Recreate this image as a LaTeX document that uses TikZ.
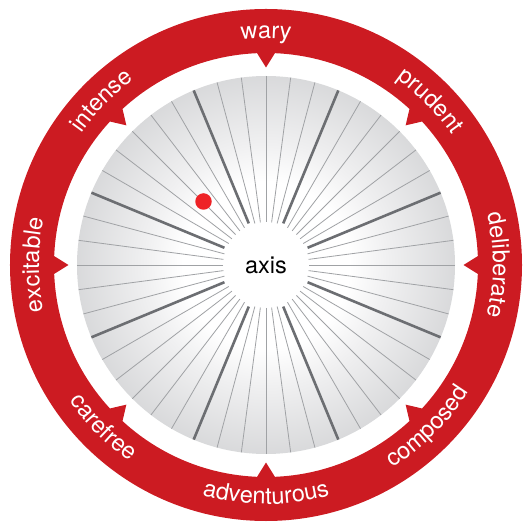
\documentclass[tikz,border=0pt]{standalone}
\usepackage{fontspec}
\setmainfont{TeX Gyre Heros}
\usetikzlibrary{decorations.text}
\definecolor{ringred}{RGB}{204,27,34}
\definecolor{dotred}{RGB}{238,34,38}
\definecolor{spokedark}{RGB}{108,110,114}
\definecolor{spokelight}{RGB}{160,162,165}
\definecolor{discrim}{RGB}{136,138,142}
\definecolor{discmid}{RGB}{204,205,207}
\definecolor{discin}{RGB}{240,240,241}
\pgfdeclareradialshading{discshade}{\pgfpoint{0bp}{0bp}}{color(0bp)=(white); color(11bp)=(white); color(16bp)=(discin); color(30bp)=(discmid); color(50bp)=(discrim)}
\newcommand{\labelfont}{\fontsize{23.5}{23.5}\selectfont}

\begin{document}
\begin{tikzpicture}[x=1pt,y=1pt,
    thinspoke/.style={spokelight,line width=0.8pt},
    thickspoke/.style={spokedark,line width=2.6pt}]
    \useasboundingbox (-266,-264) rectangle (259,265);
    % red ring with the eight pointers
    \fill[ringred,even odd rule] (0,0) circle (256) (0,0) circle (212);
    \foreach \a in {0,45,...,315}
      \fill[ringred] (\a-2.6:213.5) -- (\a-2.1:210) -- (\a:197.5) -- (\a+2.1:210) -- (\a+2.6:213.5) -- cycle;
    % disc and spokes
    \shade[shading=discshade] (0,0) circle (189);
    \foreach \i in {0,...,47} {
      \pgfmathtruncatemacro{\m}{mod(\i,6)}
      \ifnum\m=3
        \draw[thickspoke] (\i*7.5:45) -- (\i*7.5:189);
      \else
        \draw[thinspoke] (\i*7.5:43) -- (\i*7.5:189);
      \fi
    }
    \node[circle,fill=white,minimum size=84pt,inner sep=0pt,font=\labelfont] (axis) at (0,0) {axis};
    \node[circle,fill=dotred,minimum size=16.5pt,inner sep=0pt] (dot) at (-62.5,63.5) {};
    % ring labels
    \foreach \t/\a/\s in {deliberate/0/1, prudent/45/1, wary/90/1, intense/135/1,
      excitable/180/1, carefree/225/-1, adventurous/270/-1, composed/315/-1}
    {
      \pgfmathsetmacro{\r}{233-6*\s}
      \pgfmathsetmacro{\sa}{\a+40*\s}
      \pgfmathsetmacro{\ea}{\a-40*\s}
      \path[decorate,decoration={text along path,text/.expanded={|\noexpand\labelfont|\t},
        text align=center,text color=white}]
        (\sa:\r) arc[start angle=\sa,end angle=\ea,radius=\r];
    }
\end{tikzpicture}
\end{document}
